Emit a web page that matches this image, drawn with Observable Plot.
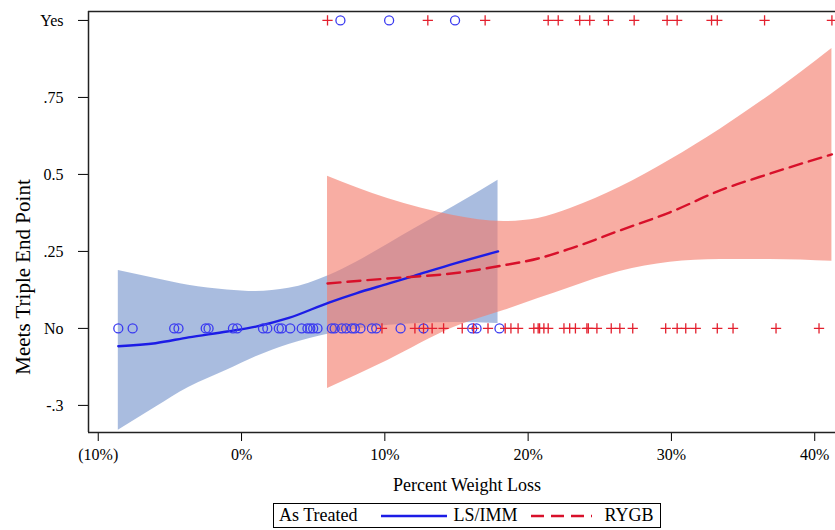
<!DOCTYPE html>
<html><head><meta charset="utf-8">
<script src="https://cdn.jsdelivr.net/npm/d3@7"></script>
<script src="https://cdn.jsdelivr.net/npm/@observablehq/plot@0.6"></script>
<style>
body{margin:0;background:#fff;font-family:"Liberation Serif","Times New Roman",serif;color:#000;}
#legend{margin-left:273px;margin-top:3px;height:23px;border:1.5px solid #000;display:inline-flex;align-items:center;font-size:18px;padding:0 6px 0 5px;white-space:nowrap;}
#legend svg{display:block;}
</style></head><body>
<div id="chart"></div>
<div id="legend"></div>
<script>
// ---- axis ticks ----
const xTicks = [-10, 0, 10, 20, 30, 40];
const yTicks = [-0.25, 0, 0.25, 0.5, 0.75, 1];
const yTickLabels = ["-.3", "No", ".25", "0.5", ".75", "Yes"];
const xLabel = "Percent Weight Loss";
const yLabel = "Meets Triple End Point";
const legendTitle = "As Treated";
const seriesNames = ["LS/IMM", "RYGB"];

// ---- observed points (percent weight loss) ----
const lsNoX = [-8.6, -7.6, -4.7, -4.4, -2.5, -2.3, -0.6, -0.3, 1.5, 1.8, 2.6, 2.8, 3.4, 4.2, 4.6, 4.8, 5.0, 5.3,
  6.3, 6.5, 7.0, 7.3, 7.7, 7.9, 8.3, 9.1, 9.4, 11.1, 12.7, 16.1, 16.4, 18.0];
const lsYesX = [6.9, 10.3, 14.9];
const rygbNoX = [9.8, 12.1, 12.7, 13.3, 14.1, 15.4, 16.2, 17.2, 18.4, 18.8, 19.3, 20.4, 20.7, 20.8, 21.1, 21.4,
  22.5, 22.9, 23.3, 24.1, 24.2, 24.8, 25.8, 26.4, 27.3, 29.6, 30.4, 31.0, 31.7, 33.2, 34.3, 37.3, 40.3];
const rygbYesX = [6.0, 13.0, 17.0, 21.4, 22.1, 23.6, 24.3, 25.6, 27.4, 29.7, 30.4, 32.8, 33.2, 36.5, 41.2];

// ---- fitted curves and confidence bands ----
const lsFitX  = [-8.6, -6, -3.7, -1, 1, 3.3, 6.1, 8, 10.3, 12, 14.9, 17.9];
const lsFit   = [-0.058, -0.048, -0.029, -0.010, 0.006, 0.034, 0.084, 0.114, 0.146, 0.170, 0.211, 0.250];
const lsLower = [-0.331, -0.256, -0.192, -0.135, -0.092, -0.052, -0.018, -0.003, 0.010, 0.015, 0.019, 0.016];
const lsUpper = [0.188, 0.162, 0.140, 0.125, 0.120, 0.130, 0.172, 0.215, 0.276, 0.322, 0.398, 0.481];

const rygbFitX  = [6.0, 10.2, 14.8, 18.3, 20.7, 23.0, 26.4, 29.9, 33.4, 36.9, 41.2];
const rygbFit   = [0.146, 0.162, 0.179, 0.205, 0.227, 0.260, 0.318, 0.377, 0.448, 0.503, 0.565];
const rygbLower = [-0.195, -0.104, 0.003, 0.058, 0.097, 0.134, 0.185, 0.215, 0.224, 0.224, 0.218];
const rygbUpper = [0.494, 0.422, 0.367, 0.347, 0.357, 0.390, 0.458, 0.547, 0.647, 0.758, 0.909];

const blue = "#1c1ce6", red = "#d8102a";
const xDomain = [-10.68, 41.45], yDomain = [-0.338, 1.029];

const lsCurve = lsFitX.map((x, i) => ({x, fit: lsFit[i], lo: lsLower[i], hi: lsUpper[i]}));
const rygbCurve = rygbFitX.map((x, i) => ({x, fit: rygbFit[i], lo: rygbLower[i], hi: rygbUpper[i]}));
const lsPts = [...lsNoX.map(x => ({x, y: 0})), ...lsYesX.map(x => ({x, y: 1}))];
const rygbPts = [...rygbNoX.map(x => ({x, y: 0})), ...rygbYesX.map(x => ({x, y: 1}))];

const chart = Plot.plot({
  width: 835, height: 500,
  marginLeft: 88, marginRight: 0, marginTop: 11, marginBottom: 68,
  style: {fontFamily: "Liberation Serif, Times New Roman, serif", fontSize: "16px", background: "#fff", color: "#000"},
  x: {domain: xDomain, ticks: xTicks, tickFormat: d => d < 0 ? `(${-d}%)` : `${d}%`, tickSize: 9, tickPadding: 7, label: null},
  y: {domain: yDomain, ticks: yTicks, tickFormat: d => yTickLabels[yTicks.indexOf(d)], tickSize: 10, tickPadding: 15, label: null},
  marks: [
    Plot.areaY(lsCurve, {x: "x", y1: "lo", y2: "hi", fill: "#6a8cc8", fillOpacity: 0.58, curve: "monotone-x"}),
    Plot.areaY(rygbCurve, {x: "x", y1: "lo", y2: "hi", fill: "#f47a6a", fillOpacity: 0.62, curve: "monotone-x"}),
    Plot.line(lsCurve, {x: "x", y: "fit", stroke: blue, strokeWidth: 2.4, curve: "monotone-x"}),
    Plot.line(rygbCurve, {x: "x", y: "fit", stroke: red, strokeWidth: 2.4, strokeDasharray: "13,7", curve: "monotone-x"}),
    Plot.dot(lsPts, {x: "x", y: "y", r: 4.5, stroke: "#3a3af0", strokeWidth: 1.3, fill: "none"}),
    Plot.dot(rygbPts, {x: "x", y: "y", symbol: "plus", r: 3.4, stroke: "#e3202e", strokeWidth: 1.3, fill: "none"}),
    Plot.ruleY([yDomain[0], yDomain[1]], {stroke: "#222", strokeWidth: 1.5}),
    Plot.ruleX([xDomain[0]], {stroke: "#222", strokeWidth: 1.5}),
    Plot.text([xLabel], {text: d => d, frameAnchor: "bottom", textAnchor: "middle", dx: 5, dy: 58, fontSize: 18}),
    Plot.text([yLabel], {text: d => d, frameAnchor: "left", textAnchor: "middle", dx: -65, dy: 55, rotate: -90, fontSize: 21})
  ]
});
document.getElementById("chart").appendChild(chart);

// ---- legend ----
const lg = d3.select("#legend");
lg.append("span").text(legendTitle).style("margin-right", "23px");
const s1 = lg.append("svg").attr("width", 66).attr("height", 10).style("margin-right", "7px");
s1.append("line").attr("x1", 0).attr("x2", 66).attr("y1", 5).attr("y2", 5).attr("stroke", blue).attr("stroke-width", 2.4);
lg.append("span").text(seriesNames[0]).style("margin-right", "13px");
const s2 = lg.append("svg").attr("width", 61).attr("height", 10).style("margin-right", "13px");
s2.append("line").attr("x1", 0).attr("x2", 61).attr("y1", 5).attr("y2", 5).attr("stroke", red).attr("stroke-width", 2.4).attr("stroke-dasharray", "13,7");
lg.append("span").text(seriesNames[1]);
</script>
</body></html>
